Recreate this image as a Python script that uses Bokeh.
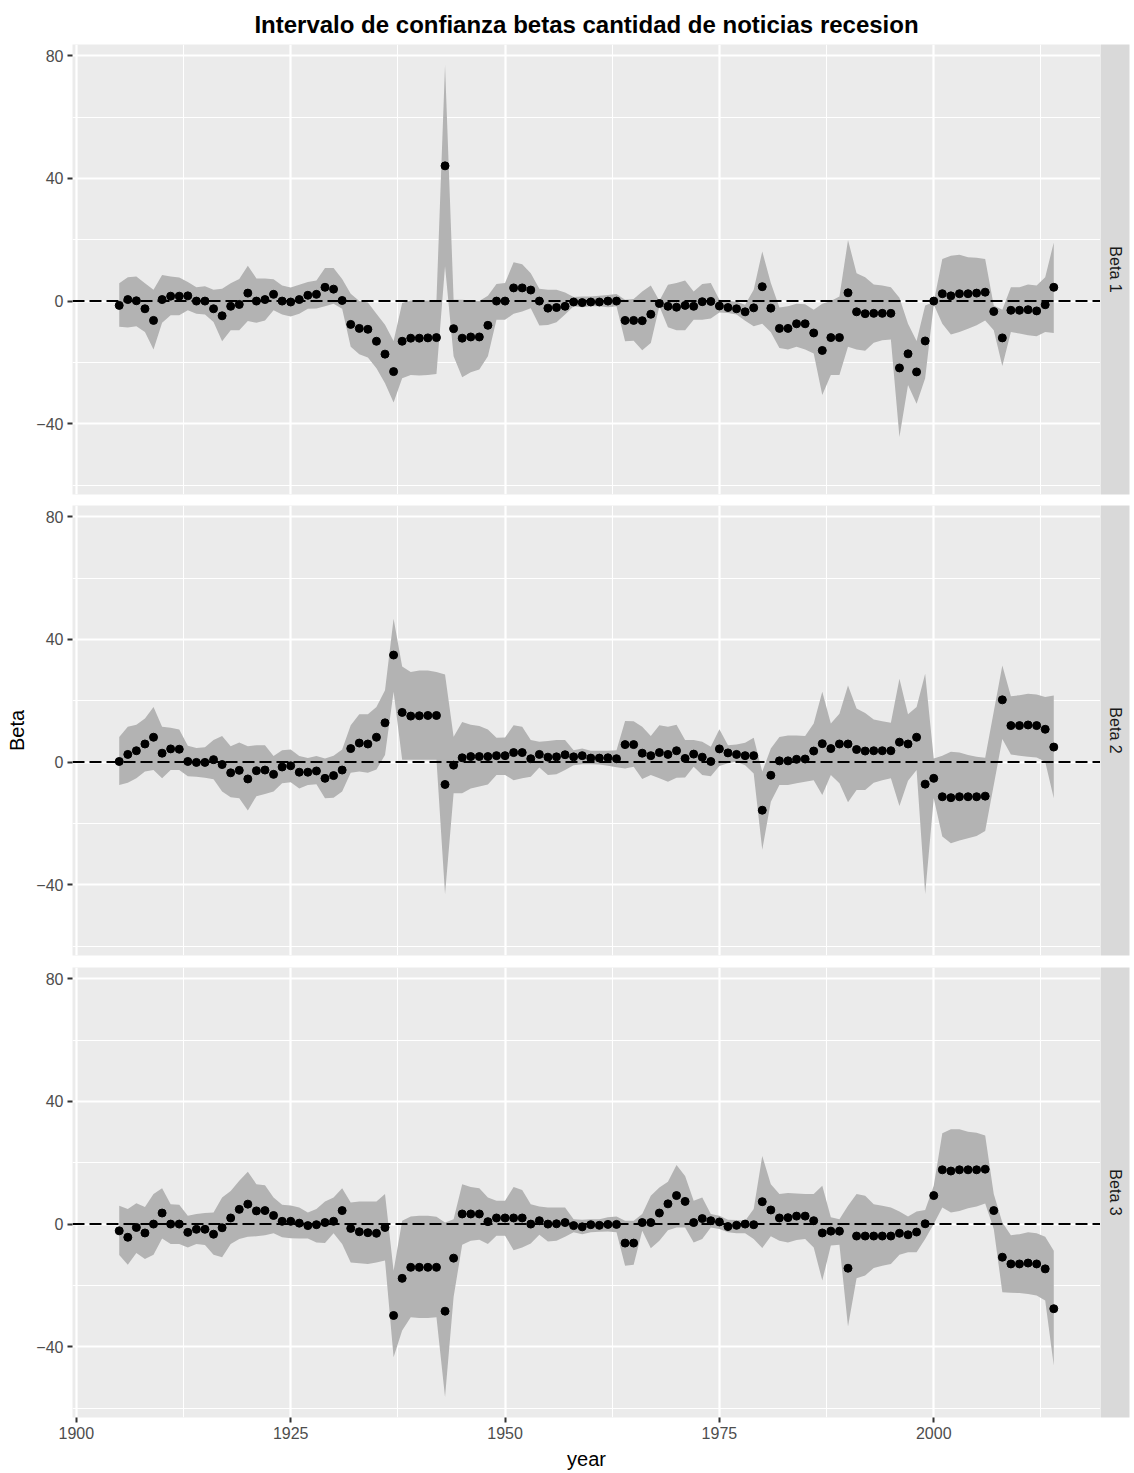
import math
import numpy as np
from bokeh.plotting import figure
from bokeh.models import Range1d, FixedTicker, Span, ColumnDataSource
from bokeh.layouts import column, row
from bokeh.embed import file_html
from bokeh.resources import INLINE
from bokeh.core.properties import value

# ---------------- data ----------------
title_text = "Intervalo de confianza betas cantidad de noticias recesion"
x_label = "year"
y_label = "Beta"
facet_labels = ["Beta 1", "Beta 2", "Beta 3"]
x_ticks = [1900, 1925, 1950, 1975, 2000]
x_minor = [1912.5, 1937.5, 1962.5, 1987.5, 2012.5]
y_ticks = [-40, 0, 40, 80]
y_minor = [-60, -20, 20, 60]

year = list(range(1905, 2015))

beta1 = [-1.4, 0.5, 0.1, -2.5, -6.3, 0.5, 1.6, 1.6, 1.7, 0.0,
         0.0, -2.5, -4.8, -1.7, -1.1, 2.6, 0.0, 0.5, 2.2, 0.0,
         -0.3, 0.5, 1.9, 2.2, 4.5, 3.9, 0.2, -7.6, -8.9, -9.2,
         -13.1, -17.3, -23.0, -13.1, -12.1, -12.1, -12.0, -11.9, 44.1, -9.0,
         -12.1, -11.7, -11.7, -7.9, 0.0, 0.0, 4.3, 4.3, 3.6, 0.0,
         -2.3, -2.1, -1.7, -0.3, -0.5, -0.3, -0.3, 0.0, 0.0, -6.3,
         -6.3, -6.4, -4.3, -0.8, -1.7, -2.0, -1.4, -1.7, -0.2, -0.1,
         -1.6, -2.1, -2.5, -3.5, -2.2, 4.7, -2.3, -8.9, -8.9, -7.4,
         -7.4, -10.4, -16.1, -11.9, -11.9, 2.7, -3.5, -4.1, -4.0, -4.0,
         -4.0, -21.8, -17.2, -23.1, -13.0, 0.0, 2.4, 1.7, 2.4, 2.4,
         2.6, 2.9, -3.4, -12.0, -3.0, -3.0, -2.8, -3.2, -1.2, 4.5]
hi1 = [5.8, 7.8, 8.0, 5.8, 3.7, 8.5, 8.0, 7.7, 6.2, 4.5,
       4.8, 3.7, 4.0, 5.8, 7.2, 11.5, 7.4, 7.4, 7.1, 5.1,
       4.4, 5.3, 6.2, 6.7, 10.8, 10.8, 7.2, 2.4, 0.0, -0.5,
       -4.1, -7.7, -13.0, -0.6, 0.2, 0.2, 0.2, 0.2, 77.0, 0.4,
       0.4, 0.2, 0.0, 1.7, 5.6, 5.9, 12.7, 12.0, 9.1, 4.0,
       3.7, 3.7, 2.8, 1.3, 1.5, 1.5, 1.7, 2.0, 2.3, 0.4,
       0.7, 3.1, 5.1, 0.1, 5.3, 5.9, 6.7, 3.1, 5.6, 5.9,
       0.4, 0.1, -0.2, -1.2, 3.7, 16.2, 5.9, -2.1, -1.7, -0.9,
       -1.0, -2.8, -0.9, 0.0, 1.5, 19.9, 9.1, 7.8, 5.4, 5.1,
       4.5, 1.1, -7.4, -13.0, -1.4, -0.3, 13.7, 14.8, 15.1, 14.3,
       14.1, 13.7, -1.4, -2.8, 4.5, 4.5, 5.4, 5.1, 7.8, 19.1]
lo1 = [-8.4, -8.6, -8.2, -10.1, -15.8, -7.1, -4.6, -4.6, -3.0, -4.1,
       -4.4, -6.8, -13.1, -9.5, -9.5, -6.5, -7.1, -6.3, -3.0, -4.4,
       -5.0, -4.1, -2.5, -2.4, -1.7, -0.9, -2.5, -14.9, -17.3, -18.4,
       -21.9, -26.8, -33.1, -25.2, -24.1, -24.3, -24.1, -23.8, 11.4, -18.0,
       -24.8, -23.2, -22.3, -18.0, -6.1, -6.1, -4.1, -3.4, -2.3, -8.0,
       -7.8, -6.9, -4.4, -1.7, -2.0, -1.7, -1.7, -2.0, -1.7, -13.1,
       -12.9, -16.0, -13.7, -1.7, -8.5, -9.5, -9.5, -6.1, -6.1, -5.7,
       -3.7, -3.9, -4.4, -6.4, -8.2, -7.4, -10.2, -15.3, -15.8, -14.9,
       -15.8, -17.1, -30.6, -24.1, -24.1, -14.9, -15.8, -16.2, -13.6, -12.8,
       -12.5, -44.3, -27.4, -33.5, -25.2, -1.1, -7.4, -10.9, -10.1, -9.0,
       -7.9, -6.3, -9.5, -21.2, -10.1, -10.6, -11.1, -11.5, -10.1, -10.4]

beta2 = [0.2, 2.5, 3.7, 5.9, 8.1, 2.9, 4.3, 4.2, 0.2, -0.1,
         -0.1, 0.8, -0.8, -3.5, -2.7, -5.5, -2.8, -2.6, -4.0, -1.6,
         -1.2, -3.3, -3.3, -2.9, -5.3, -4.4, -2.6, 4.4, 6.2, 5.9,
         8.1, 12.8, 34.9, 16.2, 15.0, 15.1, 15.2, 15.2, -7.3, -1.0,
         1.4, 1.8, 1.8, 1.8, 2.1, 2.1, 3.1, 3.1, 1.1, 2.5,
         1.6, 1.7, 2.4, 1.7, 2.1, 1.3, 1.3, 1.4, 1.1, 5.7,
         5.7, 2.9, 2.1, 3.1, 2.5, 3.7, 1.2, 2.6, 1.6, 0.2,
         4.3, 3.0, 2.5, 2.1, 2.1, -15.7, -4.3, 0.4, 0.4, 0.9,
         1.0, 3.6, 6.0, 4.4, 5.9, 5.9, 4.1, 3.6, 3.7, 3.7,
         3.7, 6.5, 5.9, 8.1, -7.2, -5.3, -11.3, -11.6, -11.3, -11.3,
         -11.3, -11.1, None, 20.3, 11.9, 11.9, 12.1, 11.9, 10.7, 4.9]
hi2 = [8.2, 11.5, 12.2, 14.2, 18.0, 11.5, 11.2, 10.6, 5.3, 4.6,
       4.8, 7.2, 8.5, 5.2, 6.4, 5.2, 5.5, 5.5, 2.0, 3.9,
       4.1, 2.0, 1.3, 2.0, 1.2, 2.1, 4.1, 12.0, 15.6, 15.6,
       18.0, 23.4, 46.7, 31.2, 29.4, 29.9, 29.9, 29.4, 28.6, 8.3,
       13.1, 12.2, 11.8, 10.6, 7.9, 8.0, 12.0, 11.5, 7.2, 6.6,
       6.9, 7.2, 7.2, 3.9, 4.4, 3.7, 3.7, 3.7, 3.9, 13.4,
       13.3, 11.5, 8.5, 12.0, 11.5, 12.2, 7.2, 7.2, 6.6, 5.0,
       10.7, 5.5, 5.7, 6.3, 7.9, -3.1, 4.4, 8.2, 8.7, 8.7,
       8.5, 12.6, 22.9, 12.6, 15.8, 25.0, 17.5, 16.0, 13.9, 13.3,
       12.8, 27.2, 15.6, 18.0, 28.8, 1.2, 2.1, 3.4, 3.1, 2.3,
       1.7, 1.4, None, 31.5, 21.5, 21.8, 22.3, 22.0, 21.2, 21.7]
lo2 = [-7.5, -6.7, -5.3, -3.1, -2.6, -5.3, -2.6, -2.6, -4.6, -4.8,
       -5.1, -5.6, -9.6, -11.5, -11.8, -15.8, -11.1, -10.4, -9.6, -6.9,
       -6.6, -8.6, -7.5, -7.2, -11.8, -11.6, -9.6, -3.5, -3.1, -3.5,
       -2.4, 2.3, 22.9, 0.8, 0.8, 0.8, 0.8, 0.8, -43.1, -10.2,
       -10.2, -8.6, -8.0, -7.3, -4.2, -4.2, -5.9, -5.3, -4.8, -1.8,
       -4.2, -4.0, -2.6, -1.0, -0.7, -0.7, -0.8, -1.2, -1.7, -2.1,
       -1.5, -5.5, -4.2, -5.3, -6.4, -5.1, -5.0, -1.5, -4.2, -4.6,
       -1.3, -0.4, 0.1, -1.0, -3.7, -28.6, -12.9, -7.5, -7.5, -6.9,
       -6.4, -5.9, -10.7, -4.2, -6.9, -13.1, -9.1, -9.1, -6.7, -5.9,
       -5.3, -14.3, -6.1, -2.6, -43.0, -11.8, -24.3, -26.5, -25.6, -24.8,
       -24.1, -22.5, None, 7.5, 2.5, 2.1, 1.7, 1.5, 0.1, -11.8]

beta3 = [-2.2, -4.3, -1.1, -2.9, 0.0, 3.6, 0.0, 0.0, -2.7, -1.7,
         -1.7, -3.3, -1.2, 2.0, 4.8, 6.5, 4.3, 4.4, 2.8, 0.9,
         0.9, 0.3, -0.5, -0.2, 0.5, 0.9, 4.4, -1.4, -2.5, -2.8,
         -3.0, -1.1, -29.8, -17.7, -14.1, -14.1, -14.1, -14.1, -28.4, -11.1,
         3.3, 3.3, 3.3, 0.8, 2.0, 2.0, 2.0, 2.0, 0.0, 1.1,
         0.0, 0.1, 0.5, -0.5, -0.9, -0.2, -0.4, -0.1, -0.1, -6.2,
         -6.2, 0.5, 0.5, 3.6, 6.6, 9.3, 7.4, 0.5, 1.8, 1.1,
         0.7, -0.8, -0.4, 0.0, -0.2, 7.3, 4.6, 2.0, 2.1, 2.6,
         2.6, 1.1, -2.9, -2.3, -2.3, -14.4, -3.9, -3.9, -3.9, -3.9,
         -3.9, -3.0, -3.5, -2.6, 0.1, 9.3, 17.7, 17.3, 17.7, 17.7,
         17.7, 17.9, 4.4, -10.8, -13.0, -13.0, -12.7, -13.0, -14.6, -27.6]
hi3 = [6.0, 4.9, 6.8, 5.6, 9.8, 11.7, 6.5, 6.3, 2.7, 3.3,
       3.6, 3.8, 8.7, 10.8, 14.1, 17.1, 13.0, 12.7, 8.7, 6.3,
       6.1, 5.4, 3.8, 4.9, 7.4, 8.7, 11.7, 7.0, 7.4, 7.4,
       7.4, 9.8, -15.2, 1.1, 2.5, 2.7, 2.7, 2.4, 0.5, 1.6,
       13.0, 12.1, 11.7, 8.7, 7.6, 7.6, 12.1, 11.1, 6.5, 5.7,
       5.4, 5.4, 5.4, 1.6, 1.4, 1.6, 1.6, 2.2, 2.5, 1.1,
       1.1, 3.3, 9.2, 11.9, 13.8, 19.3, 15.7, 7.6, 8.7, 3.3,
       2.7, 1.4, 1.3, 1.1, 4.9, 22.2, 13.0, 9.8, 10.1, 10.0,
       9.8, 9.8, 12.5, 2.2, 1.6, 6.0, 9.8, 9.2, 6.5, 6.0,
       5.4, 4.1, 2.5, 4.1, 4.6, 12.5, 29.6, 30.9, 30.9, 30.1,
       29.8, 28.9, 9.8, 0.5, -3.6, -3.3, -2.7, -3.0, -4.1, -8.7]
lo3 = [-10.1, -13.3, -9.4, -11.4, -10.0, -4.7, -6.5, -6.5, -7.6, -6.5,
       -6.8, -10.0, -10.8, -6.5, -4.9, -4.1, -4.0, -3.6, -3.0, -4.3,
       -4.6, -4.7, -4.7, -6.0, -6.2, -3.0, -6.5, -12.5, -12.8, -13.0,
       -12.5, -11.9, -43.4, -34.7, -30.4, -30.6, -30.6, -30.4, -56.4, -23.8,
       -6.7, -5.4, -5.1, -6.5, -3.8, -3.8, -8.5, -7.6, -6.3, -3.5,
       -5.7, -5.4, -4.1, -2.7, -3.3, -2.7, -2.5, -2.4, -2.7, -13.6,
       -13.3, -2.2, -7.9, -5.4, -2.0, -1.1, -1.1, -6.0, -4.9, -1.1,
       -1.6, -2.7, -3.0, -3.0, -4.9, -7.8, -4.0, -5.4, -6.0, -5.2,
       -4.9, -7.6, -18.4, -7.0, -6.7, -33.4, -17.7, -16.8, -14.3, -13.6,
       -13.0, -10.0, -9.2, -9.2, -4.9, 0.0, 5.4, 3.8, 4.3, 5.2,
       5.7, 6.7, -1.6, -22.2, -22.4, -22.5, -22.8, -23.3, -24.9, -46.1]

# ---------------- styling ----------------
FONT = "Liberation Sans"
FRAME_W, FRAME_H = 1028, 450
LEFT = 72
STRIP_W = 29
RIGHT_MARGIN = 5
PANEL_BG = "#EBEBEB"
RIBBON = "#B3B3B3"

# scale limits like ggplot (5% expansion)
all_lo = [v for arr in (lo1, lo2, lo3) for v in arr if v is not None]
all_hi = [v for arr in (hi1, hi2, hi3) for v in arr if v is not None]
ymin, ymax = min(all_lo), max(all_hi)
ypad = 0.05 * (ymax - ymin)
xmin, xmax = min(year), max(year)
xpad = 0.05 * (xmax - xmin)
X_RANGE = (xmin - xpad, xmax + xpad)
Y_RANGE = (ymin - ypad, ymax + ypad)


def clean(est, lo, hi):
    rows = [(y, e, l, h) for y, e, l, h in zip(year, est, lo, hi)
            if e is not None and l is not None and h is not None]
    return dict(year=[r[0] for r in rows], est=[r[1] for r in rows],
                lo=[r[2] for r in rows], hi=[r[3] for r in rows])


def style_axis(ax):
    ax.axis_line_color = None
    ax.major_tick_line_color = "#333333"
    ax.major_tick_line_width = 2
    ax.major_tick_out = 5
    ax.major_tick_in = 0
    ax.minor_tick_line_color = None
    ax.major_label_text_font = FONT
    ax.major_label_text_font_size = "16px"
    ax.major_label_text_color = "#4D4D4D"
    ax.major_label_standoff = 4
    ax.axis_label_text_font = FONT
    ax.axis_label_text_font_size = "20px"
    ax.axis_label_text_font_style = "normal"
    ax.axis_label_text_color = "black"


def make_panel(idx, est, lo, hi, top, bottom, show_x, show_ylab, title):
    src = ColumnDataSource(clean(est, lo, hi))
    kw = dict(frame_width=FRAME_W, frame_height=FRAME_H,
              min_border_left=LEFT, min_border_right=0,
              min_border_top=top, min_border_bottom=bottom,
              x_range=Range1d(*X_RANGE), y_range=Range1d(*Y_RANGE),
              toolbar_location=None, output_backend="svg",
              x_axis_location="below" if show_x else None,
              background_fill_color=PANEL_BG, border_fill_color="white",
              outline_line_color=None)
    if title:
        kw["title"] = title
    p = figure(**kw)
    if title:
        p.title.align = "center"
        p.title.text_font = FONT
        p.title.text_font_size = "24px"
        p.title.text_font_style = "bold"
        p.title.text_color = "black"
        p.title.standoff = 13

    p.xgrid.ticker = FixedTicker(ticks=x_ticks, minor_ticks=x_minor)
    p.ygrid.ticker = FixedTicker(ticks=y_ticks, minor_ticks=y_minor)
    for g in (p.xgrid, p.ygrid):
        g.grid_line_color = "white"
        g.grid_line_width = 2.2
        g.minor_grid_line_color = "white"
        g.minor_grid_line_width = 1.1

    p.yaxis.ticker = FixedTicker(ticks=y_ticks)
    p.yaxis.major_label_overrides = {t: ("\u2212" + str(abs(t)) if t < 0 else str(t)) for t in y_ticks}
    style_axis(p.yaxis[0])
    if show_ylab:
        p.yaxis.axis_label = y_label
        p.yaxis.axis_label_standoff = 5
    if show_x:
        p.xaxis.ticker = FixedTicker(ticks=x_ticks)
        style_axis(p.xaxis[0])
        p.xaxis.axis_label = x_label
        p.xaxis.axis_label_standoff = 6

    p.varea(x="year", y1="lo", y2="hi", source=src, fill_color=RIBBON, fill_alpha=1.0)
    zero = Span(location=0, dimension="width", line_color="black",
                line_width=2, line_dash="12 5", level="glyph")
    p.add_layout(zero)
    p.scatter(x="year", y="est", source=src, size=8, color="black")
    return p


def make_strip(label, top, bottom):
    s = figure(frame_width=STRIP_W, frame_height=FRAME_H,
               min_border_left=0, min_border_right=RIGHT_MARGIN,
               min_border_top=top, min_border_bottom=bottom,
               x_range=Range1d(0, 1), y_range=Range1d(0, 1),
               toolbar_location=None, output_backend="svg",
               x_axis_location=None, y_axis_location=None,
               background_fill_color="#D9D9D9", border_fill_color="white",
               outline_line_color=None)
    s.grid.visible = False
    s.text(x=[0.5], y=[0.5], text=[label], angle=-math.pi / 2,
           text_align="center", text_baseline="middle",
           text_font=value(FONT), text_font_size="16px", text_color="#1A1A1A")
    return s


series = [(beta1, lo1, hi1), (beta2, lo2, hi2), (beta3, lo3, hi3)]
borders = [(44, 11), (0, 12), (0, 56)]
rows = []
for i, ((est, lo, hi), (top, bottom)) in enumerate(zip(series, borders)):
    p = make_panel(i, est, lo, hi, top, bottom,
                   show_x=(i == 2), show_ylab=(i == 1),
                   title=title_text if i == 0 else None)
    s = make_strip(facet_labels[i], top, bottom)
    rows.append(row(p, s, spacing=0))

layout = column(*rows, spacing=0)

with open("out.html", "w") as f:
    f.write(file_html(layout, INLINE, title_text))
